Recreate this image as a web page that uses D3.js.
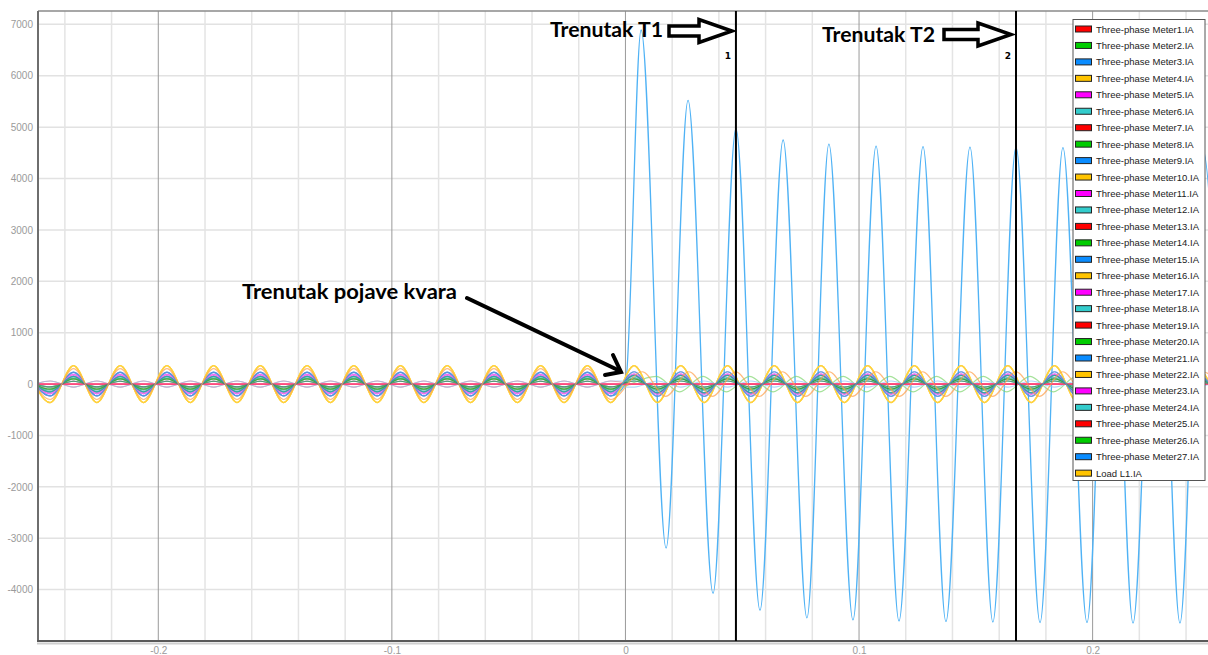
<!DOCTYPE html>
<html lang="en">
<head>
<meta charset="utf-8">
<title>Struje brojila - trenutak kvara</title>
<script src="https://d3js.org/d3.v7.min.js"></script>
<style>
  body { margin: 0; background: #fff; }
  svg { display: block; }
  .tick text { fill: #9a9a9a; font: 10px "Liberation Sans", Arial, sans-serif; }
  .note { font-family: Lato, "Open Sans", sans-serif; font-weight: bold; fill: #000; }
</style>
</head>
<body>
<script>
// axis ticks
var xTicks = [-0.2, -0.1, 0, 0.1, 0.2];
var yTicks = [-4000, -3000, -2000, -1000, 0, 1000, 2000, 3000, 4000, 5000, 6000, 7000];

// legend entries
var seriesNames = [
  "Three-phase Meter1.IA", "Three-phase Meter2.IA", "Three-phase Meter3.IA", "Three-phase Meter4.IA",
  "Three-phase Meter5.IA", "Three-phase Meter6.IA", "Three-phase Meter7.IA", "Three-phase Meter8.IA",
  "Three-phase Meter9.IA", "Three-phase Meter10.IA", "Three-phase Meter11.IA", "Three-phase Meter12.IA",
  "Three-phase Meter13.IA", "Three-phase Meter14.IA", "Three-phase Meter15.IA", "Three-phase Meter16.IA",
  "Three-phase Meter17.IA", "Three-phase Meter18.IA", "Three-phase Meter19.IA", "Three-phase Meter20.IA",
  "Three-phase Meter21.IA", "Three-phase Meter22.IA", "Three-phase Meter23.IA", "Three-phase Meter24.IA",
  "Three-phase Meter25.IA", "Three-phase Meter26.IA", "Three-phase Meter27.IA", "Load L1.IA"
];
var swatchColors = [
  "#ff0000", "#00cc00", "#0a8cff", "#ffc400", "#ff00ff", "#33cccc",
  "#ff0000", "#00cc00", "#0a8cff", "#ffc400", "#ff00ff", "#33cccc",
  "#ff0000", "#00cc00", "#0a8cff", "#ffc400", "#ff00ff", "#33cccc",
  "#ff0000", "#00cc00", "#0a8cff", "#ffc400", "#ff00ff", "#33cccc",
  "#ff0000", "#00cc00", "#0a8cff", "#ffc400"
];
var lineColors = [
  "#ff7070", "#2e9a2e", "#4fb2f5", "#ffd23c", "#f060f0", "#2fa3a3",
  "#ff7070", "#3d8f5a", "#5a8fe0", "#ffd23c", "#f060f0", "#2fa3a3",
  "#ff4060", "#7fd66f", "#8cc8f5", "#ffd23c", "#f060f0", "#2fa3a3",
  "#ff4060", "#2e9a2e", "#8cc8f5", "#ffd23c", "#ff50c0", "#2fa3a3",
  "#ff4060", "#3d8f5a", "#5a8fe0", "#ffa04a"
];

// peak current (A) of each meter before and after the fault, and phase lag after it (s)
var preAmp  = [60, 100, 230, 360, 190, 150, -60, 55, 230, 360, 190, 120, 0, 100, 60, 360, 170, 150, 0, 100, -60, 360, 0, 150, 0, 55, 230, 300];
var postAmp = [0, 100, 0, 360, 200, 170, 0, 60, 240, 360, 200, 130, 0, 150, -60, 360, 180, 170, 0, 100, 60, 360, 0, 170, 0, 60, 240, 240];
var postLag = [0, 0, 0, 0, 0, 0, 0, 0, 0, 0, 0, 0, 0, 0.0095, 0, 0, 0, 0, 0, 0, 0, 0, 0, 0, 0, 0, 0, 0.0035];

// Meter3 fault current after t = 0: extrema
var faultT = [0.0000, 0.0067, 0.0174, 0.0268, 0.0375, 0.0473, 0.0576, 0.0675, 0.0777, 0.0871, 0.0974, 0.1073, 0.1171,
              0.1274, 0.1372, 0.1475, 0.1573, 0.1672, 0.1775, 0.1873, 0.1976, 0.2075, 0.2173, 0.2276, 0.2374, 0.2470, 0.2576];
var faultI = [0, 6890, -3190, 5520, -4070, 4970, -4400, 4750, -4550, 4670, -4590, 4630, -4610,
              4620, -4620, 4610, -4630, 4610, -4640, 4600, -4640, 4600, -4650, 4600, -4650, 4600, -4650];
var faultSeries = 2;

// first trough of the steady 50 Hz waves and half period (s)
var firstExtremum = -0.2463;
var halfPeriod = 0.01;

// cursors
var cursorT = [0.0473, 0.1672];
var cursorLabels = ["1", "2"];

var w = 1208, h = 655;
var pL = 38, pT = 11, pR = 1208, pB = 641;

var svg = d3.select("body").append("svg").attr("width", w).attr("height", h);

var x = d3.scaleLinear().domain([-0.2515, 0.2494]).range([pL, pR]);
var y = d3.scaleLinear().domain([-5000, 7260]).range([pB, pT]);

// grid
var grid = svg.append("g");
grid.selectAll("line.hy")
  .data(d3.range(-5000, 7001, 1000))
  .enter().append("line")
  .attr("x1", pL).attr("x2", pR)
  .attr("y1", function(d) { return y(d); }).attr("y2", function(d) { return y(d); })
  .attr("stroke", "#e2e2e2").attr("stroke-width", 1.5);
grid.selectAll("line.vx")
  .data(d3.range(-24, 25, 2).map(function(d) { return d / 100; }))
  .enter().append("line")
  .attr("y1", pT).attr("y2", pB)
  .attr("x1", function(d) { return x(d); }).attr("x2", function(d) { return x(d); })
  .attr("stroke", function(d) { return Math.abs(Math.round(d * 100)) % 10 === 0 ? "#9a9a9a" : "#e4e4e4"; })
  .attr("stroke-width", function(d) { return Math.abs(Math.round(d * 100)) % 10 === 0 ? 1 : 1.5; });

// axes
var plain = function(d) { return String(d); };
svg.append("g")
  .attr("transform", "translate(" + pL + ",0)")
  .call(d3.axisLeft(y).tickValues(yTicks).tickSize(0).tickPadding(5).tickFormat(plain))
  .call(function(g) { g.select(".domain").remove(); });
svg.append("g")
  .attr("transform", "translate(0," + pB + ")")
  .call(d3.axisBottom(x).tickValues(xTicks).tickSize(0).tickPadding(6).tickFormat(plain))
  .call(function(g) { g.select(".domain").remove(); });

// waveforms
svg.append("clipPath").attr("id", "plot")
  .append("rect").attr("x", pL).attr("y", pT).attr("width", pR - pL).attr("height", pB - pT);

function knots(i) {
  var pts = [];
  for (var k = -1; k <= 50; k++) {
    var t = firstExtremum + k * halfPeriod;
    var s = (k % 2 === 0) ? -1 : 1;
    if (t < 0) pts.push([t, s * preAmp[i]]);
    else if (i !== faultSeries) pts.push([t + postLag[i], s * postAmp[i]]);
  }
  if (i === faultSeries) {
    faultT.forEach(function(t, j) { pts.push([t, faultI[j]]); });
  }
  return pts;
}

var line = d3.line()
  .x(function(d) { return x(d[0]); })
  .y(function(d) { return y(d[1]); })
  .curve(d3.curveMonotoneX);

var order = d3.range(seriesNames.length).filter(function(i) { return i !== faultSeries; });
order.unshift(faultSeries);

svg.append("g").attr("clip-path", "url(#plot)")
  .selectAll("path")
  .data(order)
  .enter().append("path")
  .attr("d", function(i) { return line(knots(i)); })
  .attr("fill", "none")
  .attr("stroke", function(i) { return lineColors[i]; })
  .attr("stroke-width", function(i) { return i === faultSeries ? 1.3 : 1.2; })
  .attr("stroke-opacity", function(i) { return i === faultSeries ? 1 : 0.7; });

// frame
svg.append("line").attr("x1", pL).attr("x2", pR).attr("y1", pT).attr("y2", pT)
  .attr("stroke", "#8a8a8a").attr("stroke-width", 1.5);
svg.append("line").attr("x1", pL).attr("x2", pL).attr("y1", pT).attr("y2", pB)
  .attr("stroke", "#6e6e6e").attr("stroke-width", 2);
svg.append("line").attr("x1", pL - 1).attr("x2", pR).attr("y1", pB + 2.5).attr("y2", pB + 2.5)
  .attr("stroke", "#cfcfcf").attr("stroke-width", 2);
svg.append("line").attr("x1", pL - 1).attr("x2", pR).attr("y1", pB).attr("y2", pB)
  .attr("stroke", "#5a5a5a").attr("stroke-width", 2);

// cursors
svg.selectAll("line.cursor")
  .data(cursorT)
  .enter().append("line")
  .attr("x1", function(d) { return x(d); }).attr("x2", function(d) { return x(d); })
  .attr("y1", pT).attr("y2", pB)
  .attr("stroke", "#000").attr("stroke-width", 2);
svg.selectAll("text.cursor")
  .data(cursorT)
  .enter().append("text")
  .attr("x", function(d) { return x(d) - 8; })
  .attr("y", 59)
  .attr("text-anchor", "middle")
  .style("font", "bold 9px 'DejaVu Sans', sans-serif")
  .text(function(d, i) { return cursorLabels[i]; });

// legend
var lg = svg.append("g");
lg.append("rect")
  .attr("x", 1073).attr("y", 19.5).attr("width", 132).attr("height", 461)
  .attr("fill", "#fff").attr("stroke", "#555").attr("stroke-width", 1);
var item = lg.selectAll("g.item")
  .data(seriesNames)
  .enter().append("g")
  .attr("transform", function(d, i) { return "translate(0," + (29 + i * 16.45) + ")"; });
item.append("rect")
  .attr("x", 1075.5).attr("y", -3).attr("width", 16).attr("height", 6)
  .attr("fill", function(d, i) { return swatchColors[i]; })
  .attr("stroke", "#222").attr("stroke-width", 1);
item.append("text")
  .attr("x", 1096).attr("y", 3.5)
  .style("font", "9.5px 'Liberation Sans', Arial, sans-serif")
  .attr("fill", "#222")
  .text(function(d) { return d; });

// annotations
function hollowArrow(x0, xh, xt, yc, shaft, head) {
  return "M" + x0 + "," + (yc - shaft) + "L" + xh + "," + (yc - shaft) + "L" + xh + "," + (yc - head) +
    "L" + xt + "," + yc + "L" + xh + "," + (yc + head) + "L" + xh + "," + (yc + shaft) +
    "L" + x0 + "," + (yc + shaft) + "Z";
}
svg.append("path").attr("d", hollowArrow(669, 699, 732, 31, 5, 11.5))
  .attr("fill", "#fff").attr("stroke", "#000").attr("stroke-width", 3.5).attr("stroke-linejoin", "miter");
svg.append("path").attr("d", hollowArrow(944, 978, 1011, 34.5, 5, 11.5))
  .attr("fill", "#fff").attr("stroke", "#000").attr("stroke-width", 3.5).attr("stroke-linejoin", "miter");

svg.append("text").attr("class", "note").attr("x", 550).attr("y", 37)
  .attr("textLength", 113).attr("lengthAdjust", "spacingAndGlyphs")
  .style("font-size", "21px").text("Trenutak T1");
svg.append("text").attr("class", "note").attr("x", 822).attr("y", 42)
  .attr("textLength", 113).attr("lengthAdjust", "spacingAndGlyphs")
  .style("font-size", "21px").text("Trenutak T2");
svg.append("text").attr("class", "note").attr("x", 242).attr("y", 299)
  .attr("textLength", 215).attr("lengthAdjust", "spacingAndGlyphs")
  .style("font-size", "21px").text("Trenutak pojave kvara");

svg.append("line").attr("x1", 467).attr("y1", 298).attr("x2", 620).attr("y2", 371)
  .attr("stroke", "#000").attr("stroke-width", 4).attr("stroke-linecap", "round");
svg.append("path").attr("d", "M613,355L621,372L605,375")
  .attr("fill", "none").attr("stroke", "#000").attr("stroke-width", 4)
  .attr("stroke-linecap", "round").attr("stroke-linejoin", "miter");
</script>
</body>
</html>
